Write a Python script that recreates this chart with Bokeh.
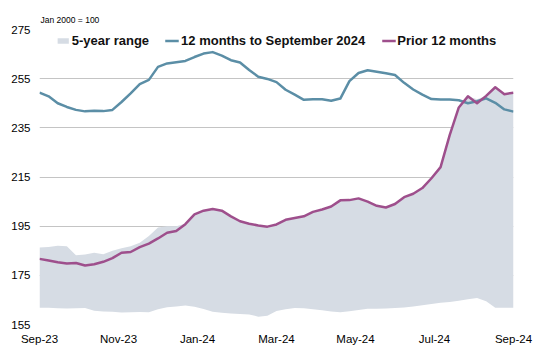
from bokeh.plotting import figure
from bokeh.models import FixedTicker, Range1d, Legend, LegendItem, Title
from bokeh.embed import file_html
from bokeh.resources import INLINE

# Month tick labels (every two months)
tick_labels = ["Sep-23", "Nov-23", "Jan-24", "Mar-24", "May-24", "Jul-24", "Sep-24"]

# Weekly observations, Sep-23 .. Sep-24 (53 weeks)
n_weeks = 53

range_low = [161.8, 161.8, 161.6, 161.5, 161.6, 161.7, 160.6, 160.3, 160.2, 159.9,
             160.0, 160.1, 160.0, 161.2, 162.0, 162.3, 162.7, 162.2, 161.3, 160.2,
             159.8, 159.5, 159.3, 159.1, 158.2, 158.6, 160.5, 161.2, 161.7, 161.6,
             161.2, 160.8, 160.3, 160.0, 160.4, 160.9, 161.4, 161.4, 161.5, 161.7,
             161.9, 162.3, 162.8, 163.3, 163.8, 164.2, 164.7, 165.3, 165.8, 164.5,
             161.8, 161.8, 161.8]

range_high = [186.3, 186.5, 187.0, 186.8, 183.2, 183.5, 184.2, 183.6, 185.0, 186.0,
              186.8, 188.3, 191.0, 194.5, 195.0, 195.0, 196.0, 199.8, 201.3, 202.0,
              201.3, 199.0, 197.0, 196.0, 195.3, 194.8, 195.7, 197.6, 198.3, 199.0,
              200.8, 201.8, 203.0, 205.5, 205.6, 206.3, 205.0, 203.3, 202.6, 204.0,
              206.8, 208.2, 210.5, 214.5, 219.0, 232.0, 243.3, 247.8, 246.6, 248.0,
              251.5, 248.7, 249.3]

last_12m = [249.3, 247.8, 245.0, 243.5, 242.3, 241.7, 241.9, 241.8, 242.3, 245.5,
            249.0, 252.8, 254.5, 259.8, 261.2, 261.7, 262.2, 263.8, 265.2, 265.8,
            264.4, 262.5, 261.6, 258.5, 255.8, 254.9, 253.6, 250.5, 248.5, 246.4,
            246.6, 246.6, 246.0, 246.9, 254.0, 257.3, 258.4, 257.8, 257.2, 256.5,
            253.3, 250.6, 248.5, 246.7, 246.5, 246.5, 246.2, 245.0, 245.8, 247.0,
            245.2, 242.5, 241.6]

prior_12m = [181.7, 181.0, 180.3, 179.8, 180.0, 179.0, 179.5, 180.5, 182.0, 184.2,
             184.5, 186.5, 187.9, 190.0, 192.3, 193.0, 195.8, 199.8, 201.3, 202.0,
             201.3, 199.0, 197.0, 196.0, 195.3, 194.8, 195.7, 197.6, 198.3, 199.0,
             200.8, 201.8, 203.0, 205.5, 205.6, 206.3, 205.0, 203.3, 202.6, 204.0,
             206.8, 208.2, 210.5, 214.5, 219.0, 232.0, 243.3, 247.8, 245.0, 248.0,
             251.5, 248.7, 249.3]

x = [i * 12 / (n_weeks - 1) for i in range(n_weeks)]

FONT = "Liberation Sans"

p = figure(width=533, height=348, output_backend="svg", toolbar_location=None,
           min_border_left=39, min_border_right=20, min_border_top=29, min_border_bottom=24,
           x_range=Range1d(0, 12), y_range=Range1d(155, 275))
p.outline_line_color = None
p.background_fill_color = "white"
p.border_fill_color = "white"

band = p.varea(x=x, y1=range_low, y2=range_high, fill_color="#d6dce4")
l1 = p.line(x, last_12m, line_color="#5b8ea6", line_width=2.5, line_join="round")
l2 = p.line(x, prior_12m, line_color="#9e4f8c", line_width=2.5, line_join="round")

p.xaxis.ticker = FixedTicker(ticks=[0, 2, 4, 6, 8, 10, 12])
p.xaxis.major_label_overrides = {2 * i: lab for i, lab in enumerate(tick_labels)}
p.yaxis.ticker = FixedTicker(ticks=[155, 175, 195, 215, 235, 255, 275])

for ax in (p.xaxis[0], p.yaxis[0]):
    ax.axis_line_color = None
    ax.major_tick_line_color = None
    ax.minor_tick_line_color = None
    ax.major_tick_out = 0
    ax.major_tick_in = 0
    ax.major_label_text_font = FONT
    ax.major_label_text_font_size = "11.5px"
    ax.major_label_text_color = "black"
p.xaxis.major_label_standoff = 8
p.yaxis.major_label_standoff = 9

p.xgrid.grid_line_color = None
p.ygrid.grid_line_color = "#c4c4c4"
p.ygrid.grid_line_width = 1

legend = Legend(items=[
    LegendItem(label="5-year range", renderers=[band]),
    LegendItem(label="12 months to September 2024", renderers=[l1]),
    LegendItem(label="Prior 12 months", renderers=[l2]),
], orientation="horizontal", location="top_center")
legend.label_text_font = FONT
legend.label_text_font_size = "13px"
legend.label_text_font_style = "bold"
legend.label_text_color = "#111111"
legend.glyph_width = 14
legend.glyph_height = 7
legend.label_height = 14
legend.label_standoff = 2
legend.spacing = 16
legend.padding = 0
legend.margin = 4
legend.border_line_color = None
legend.background_fill_alpha = 0
p.add_layout(legend)

p.add_layout(Title(text="Jan 2000 = 100", align="left", offset=1, standoff=9,
                   text_font=FONT, text_font_size="8.5px", text_font_style="normal",
                   text_color="black"), "above")

open("out.html", "w").write(file_html(p, INLINE))
